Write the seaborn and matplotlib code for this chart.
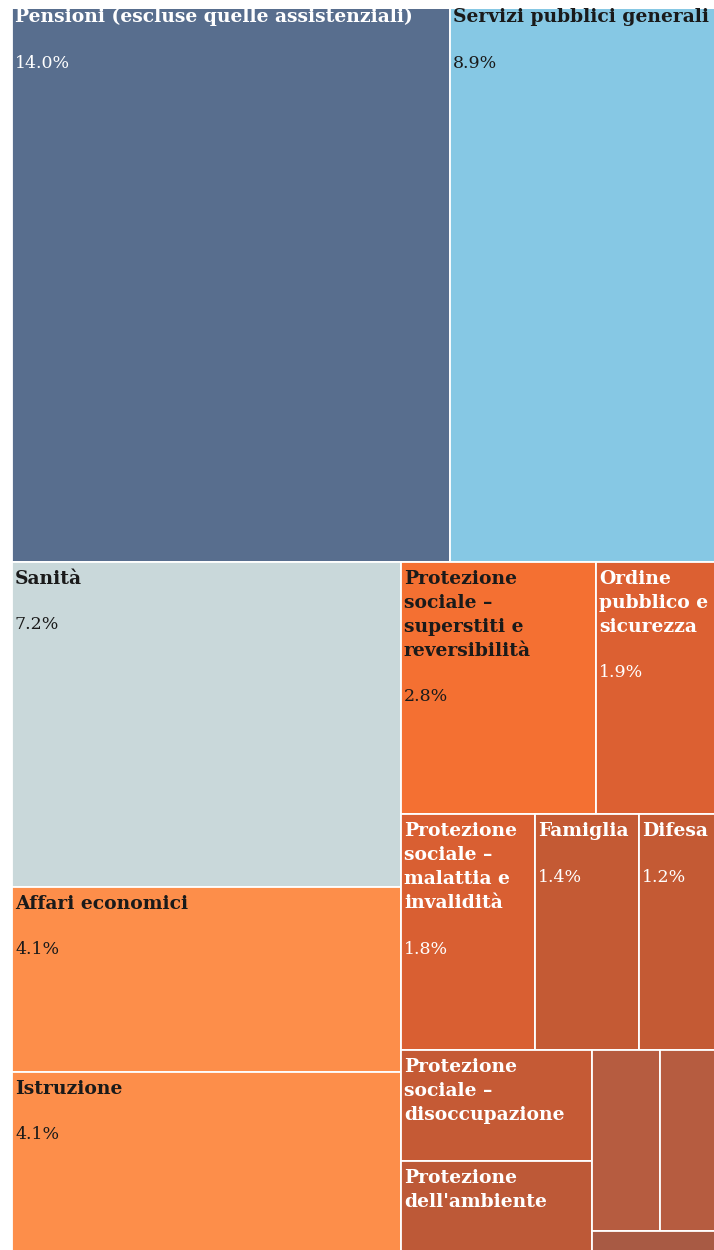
import matplotlib
matplotlib.use("Agg")
import matplotlib.pyplot as plt
from matplotlib.patches import Rectangle
import seaborn as sns

# spesa pubblica per funzione, % del PIL
names = [
    "Pensioni (escluse quelle assistenziali)",
    "Servizi pubblici generali",
    "Sanità",
    "Affari economici",
    "Istruzione",
    "Protezione\nsociale –\nsuperstiti e\nreversibilità",
    "Ordine\npubblico e\nsicurezza",
    "Protezione\nsociale –\nmalattia e\ninvalidità",
    "Famiglia",
    "Difesa",
    "Protezione\nsociale –\ndisoccupazione",
    "Protezione\ndell'ambiente",
    "Attività ricreative, culturali e di culto",
    "Abitazioni e assetto territoriale",
    "Protezione sociale – esclusione sociale",
]
values = [14.0, 8.9, 7.2, 4.1, 4.1, 2.8, 1.9, 1.8, 1.4, 1.2, 1.2, 1.05, 0.7, 0.7, 0.2]
colors = ["#586e8e", "#86c8e4", "#c9d8da", "#fd8e4a", "#fd8e4a", "#f47032",
          "#dc6032", "#d95f32", "#c45a34", "#c45a34", "#c55a35", "#bd5937",
          "#b65c40", "#b65c40", "#a85a44"]
text_colors = ["white", "#1a1a1a", "#1a1a1a", "#1a1a1a", "#1a1a1a", "#1a1a1a",
               "white", "white", "white", "white", "white", "white",
               "white", "white", "white"]


def squarify(vals, x0, y0, x1, y1, ratio=(1 + 5 ** 0.5) / 2):
    # same tiling as d3.treemapSquarify
    rects = []
    n = len(vals)
    total = sum(vals)
    i0 = i1 = 0
    while i0 < n:
        dx, dy = x1 - x0, y1 - y0
        s = vals[i1]
        i1 += 1
        vmin = vmax = s
        alpha = max(dy / dx, dx / dy) / (total * ratio)
        beta = s * s * alpha
        best = max(vmax / beta, beta / vmin)
        while i1 < n:
            v = vals[i1]
            s2 = s + v
            beta = s2 * s2 * alpha
            r = max(max(vmax, v) / beta, beta / min(vmin, v))
            if r > best:
                break
            s = s2
            vmin, vmax = min(vmin, v), max(vmax, v)
            best = r
            i1 += 1
        row = vals[i0:i1]
        if dx < dy:
            h = dy * s / total
            xx = x0
            for v in row:
                w = dx * v / s
                rects.append((xx, y0, w, h))
                xx += w
            y0 += h
        else:
            w = dx * s / total
            yy = y0
            for v in row:
                h = dy * v / s
                rects.append((x0, yy, w, h))
                yy += h
            x0 += w
        total -= s
        i0 = i1
    return rects


sns.set_theme(style="white")
plt.rcParams['font.family'] = ['DejaVu Serif', 'DejaVu Sans']

fig = plt.figure(figsize=(7.14, 12.5), dpi=100)
# the treemap is cropped a bit at top, right and bottom
ax = fig.add_axes([0, 0, 1, 1241 / 1250])
ax.set_xlim(0, 714)
ax.set_ylim(1250, 9)
ax.axis("off")

rects = squarify(values, 12, 0, 12 + 716, 1257)

for name, val, col, tcol, (x, y, w, h) in zip(names, values, colors, text_colors, rects):
    patch = Rectangle((x, y), w, h, facecolor=col, edgecolor="white", lw=1.3)
    ax.add_patch(patch)
    if w < 75 or h < 60:
        continue
    lines = name.split("\n")
    ty = y + 17
    for i, line in enumerate(lines):
        t = ax.text(x + 3, ty + 24 * i, line, color=tcol, fontsize=13.5,
                    fontweight="bold", va="center", ha="left")
        t.set_clip_path(patch)
    vy = ty + 24 * (len(lines) - 1) + 46
    if vy + 20 < y + h:
        t = ax.text(x + 3, vy, f"{val:.1f}%", color=tcol, fontsize=12.5,
                    va="center", ha="left")
        t.set_clip_path(patch)

fig.savefig("out.png", dpi=100, facecolor="white")
